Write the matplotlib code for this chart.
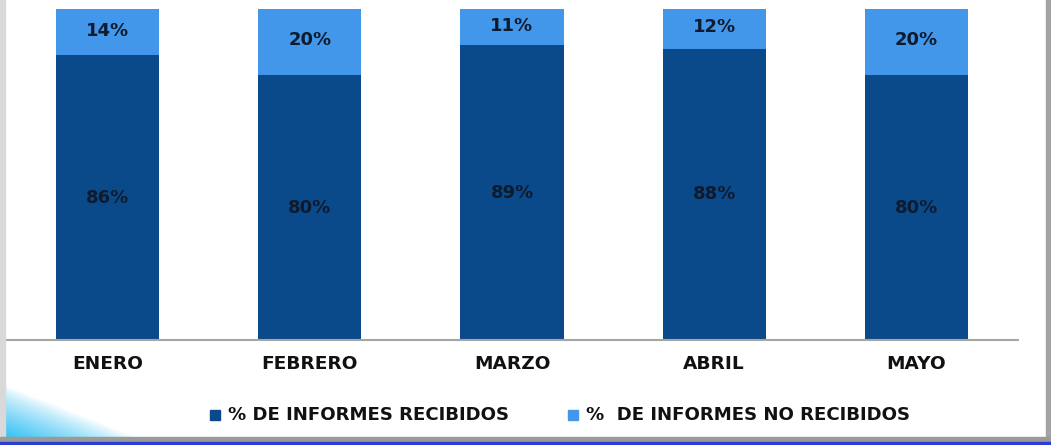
import matplotlib.pyplot as plt
import numpy as np
from matplotlib.patches import Rectangle

plt.rcParams["font.family"] = ["DejaVu Sans"]

months = ["ENERO", "FEBRERO", "MARZO", "ABRIL", "MAYO"]
recibidos = [86, 80, 89, 88, 80]
no_recibidos = [14, 20, 11, 12, 20]
serie_labels = ["% DE INFORMES RECIBIDOS", "%  DE INFORMES NO RECIBIDOS"]

dark = "#0B4A8A"
light = "#4297EA"
txt = "#0E1B2E"

W, H = 1051, 445
fig = plt.figure(figsize=(W / 100, H / 100), dpi=100)
fig.patch.set_facecolor("white")

# slide frame: grey strips left/right, grey + blue band at the bottom
fig.patches.append(Rectangle((0, 0), 5 / W, 1, transform=fig.transFigure,
                             color="#D9D9D9", zorder=0))
fig.patches.append(Rectangle((1046 / W, 0), 5 / W, 1, transform=fig.transFigure,
                             color="#A3A3A3", zorder=0))
fig.patches.append(Rectangle((0, 0), 1, 8 / H, transform=fig.transFigure,
                             color="#9A9A9A", zorder=0))
fig.patches.append(Rectangle((0, 0), 1, 3 / H, transform=fig.transFigure,
                             color="#2B3FD6", zorder=1))

# cyan sweep in the lower-left corner
gax = fig.add_axes([5 / W, 8 / H, 130 / W, 52 / H])
gx, gy = np.meshgrid(np.linspace(0, 1, 130), np.linspace(0, 1, 52))
alpha = np.clip(1.0 - (gx * 1.0 + gy * 1.0), 0, 1) ** 0.8
img = np.zeros((52, 130, 4))
img[..., 0] = 0.22
img[..., 1] = 0.76
img[..., 2] = 0.96
img[..., 3] = alpha
gax.imshow(img, origin="lower", aspect="auto", extent=[0, 1, 0, 1])
gax.axis("off")

ax = fig.add_axes([6.5 / W, (H - 340) / H, 1011 / W, 331 / H])
x = np.arange(len(months))
bw = 0.51
ax.bar(x, recibidos, width=bw, color=dark, zorder=2)
ax.bar(x, no_recibidos, width=bw, bottom=recibidos, color=light, zorder=2)

for i in x:
    ax.text(i, recibidos[i] / 2, f"{recibidos[i]}%", ha="center", va="center",
            fontsize=13, fontweight="bold", color=txt)
    ax.text(i, recibidos[i] + no_recibidos[i] / 2 + 0.5, f"{no_recibidos[i]}%",
            ha="center", va="center", fontsize=13, fontweight="bold", color=txt)

ax.set_xlim(-0.5, len(months) - 0.5)
ax.set_ylim(0, 100)
ax.set_xticks(x)
ax.set_xticklabels(months, fontsize=13.3, fontweight="bold", color="#111111")
ax.tick_params(axis="x", length=0, pad=11)
ax.set_yticks([])
for s in ["top", "left", "right"]:
    ax.spines[s].set_visible(False)
ax.spines["bottom"].set_color("#A6A6A6")
ax.spines["bottom"].set_linewidth(1.5)
ax.patch.set_alpha(0)

# legend
ly = (H - 415) / H
for xs, col, lab in [(210, dark, serie_labels[0]), (568, light, serie_labels[1])]:
    fig.patches.append(Rectangle((xs / W, ly - 5 / H), 10 / W, 10 / H,
                                 transform=fig.transFigure, color=col))
    fig.text((xs + 18) / W, ly, lab, ha="left", va="center", fontsize=13.1,
             fontweight="bold", color="#111111")

fig.savefig("out.png", dpi=100)
